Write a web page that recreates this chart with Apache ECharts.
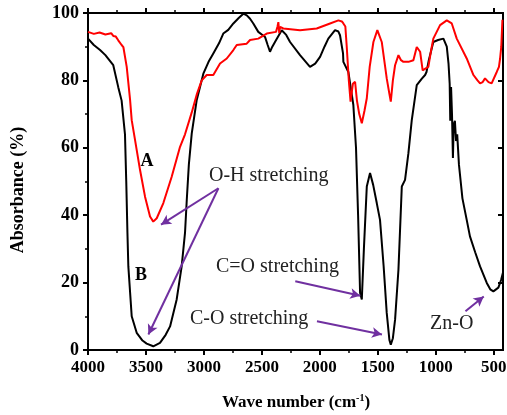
<!DOCTYPE html>
<html>
<head>
<meta charset="utf-8">
<script src="https://cdn.jsdelivr.net/npm/echarts@6/dist/echarts.min.js"></script>
<style>
html,body{margin:0;padding:0;background:#fff;}
#chart{width:507px;height:415px;}
</style>
</head>
<body>
<div id="chart"></div>
<script>
// ---- data ----
const xMajorTicks = [4000, 3500, 3000, 2500, 2000, 1500, 1000, 500];
const xMinorTicks = [3750, 3250, 2750, 2250, 1750, 1250, 750];

const bWave = [4000,3950,3896,3850,3782,3739,3710,3681,3670,3660,3652,3623,3580,3530,3494,3437,3379,3330,3292,3235,3192,3163,3148,3130,3105,3062,3005,2960,2919,2870,2833,2790,2746,2700,2660,2630,2602,2574,2531,2473,2450,2430,2410,2387,2329,2290,2257,2171,2085,2040,1998,1960,1927,1869,1840,1826,1800,1797,1754,1711,1688,1670,1653,1638,1620,1595,1567,1540,1509,1481,1450,1423,1400,1388,1370,1351,1322,1293,1265,1236,1207,1164,1120,1092,1080,1060,1021,980,934,905,890,880,875,868,860,852,845,835,825,815,800,770,733,705,660,618,560,530,503,480,460,445,435,420];
const bAbs  = [92.4,90.5,89,87.5,84.5,78,74,64,50,35,24.8,10,5.1,2.8,1.9,1.1,2.1,4.5,7,15,24.8,34.8,44.5,55,64.3,74.2,82,85.5,88,91,93.9,95,96.9,98.5,99.8,99.3,98.3,96.9,94.4,92.9,90.5,88.5,90,91.4,94.9,93.5,91.4,87.5,84,85,87,90,92.4,94.9,94.5,93.4,88,85.5,82.5,72.7,60,40,17,15,30,48.5,52.5,49,43.6,38.6,25,11,3,1.6,3.5,9,23.8,48.5,50.5,58.4,68.2,78.6,80.5,81.6,82.5,86,91.4,92,92.4,90,85,79,68,78,70,57,67,68,62,64,55,45,38.6,33.7,29,24.8,19.9,18,17.4,18,18.5,19.9,21,23];

const aWave = [4000,3950,3900,3850,3800,3782,3760,3739,3710,3695,3666,3637,3623,3594,3551,3508,3465,3437,3407,3350,3278,3206,3163,3105,3060,3019,2976,2940,2919,2861,2803,2746,2717,2631,2602,2531,2458,2378,2365,2358,2350,2343,2315,2171,2027,1912,1840,1810,1797,1780,1768,1750,1735,1715,1696,1680,1660,1638,1615,1595,1570,1538,1504,1466,1423,1400,1388,1370,1351,1322,1300,1279,1236,1193,1164,1150,1135,1113,1090,1064,1040,1021,963,905,862,819,733,675,640,618,595,575,545,518,474,455,445,435,425];
const aAbs  = [94.4,93.8,94.2,93.6,94,93.2,93,91.9,90.5,89.9,84,74.2,68.2,62.3,53.4,45.5,39.6,38.1,39.1,43.6,51.4,60.3,64,70.5,76,80,81.6,81.6,81.6,85,86.5,89,90.5,90.9,92,92.4,93.9,94.4,96,97.3,94,95.9,95.4,94.9,95.4,96.9,97.8,97.5,96.9,96,90,80,73.7,79,79.6,74,70,67.3,71,74.7,84,91.4,94.9,91.4,80.6,76,73.7,80,84.5,87.5,86,85.5,85.5,86,89.9,89.5,88.5,83,83.5,84,89,92.4,96.4,97.8,96.9,92.4,86.5,81.6,80,79.1,79.5,80.6,79.5,79.1,82.5,84,86.5,90,98];

// annotation arrows: [fromWave, fromAbs, toWave, toAbs]
const arrows = [
  [2875, 48.0, 3370, 37.2],
  [2875, 48.0, 3479, 4.6],
  [2212, 20.4, 1651, 16.1],
  [2025, 8.5, 1464, 4.6],
  [744, 11.5, 586, 15.9]
];

const pair = (xs, ys) => xs.map((x, i) => [x, ys[i]]);

const FONT = "'Liberation Serif', 'Times New Roman', serif";
const PURPLE = '#7030a0';

const chart = echarts.init(document.getElementById('chart'));

const baseX = {
  type: 'value', min: 420, max: 4000, inverse: true,
  splitLine: {show: false},
  axisLine: {show: true, onZero: false, lineStyle: {color: '#000', width: 2}}
};

const option = {
  animation: false,
  backgroundColor: '#fff',
  grid: {left: 88, right: 4, top: 13, bottom: 65, containLabel: false, outerBoundsMode: 'none'},
  xAxis: [
    Object.assign({}, baseX, {
      position: 'bottom',
      axisTick: {show: true, inside: false, length: 5, customValues: xMajorTicks, lineStyle: {color: '#000', width: 2}},
      axisLabel: {show: true, customValues: xMajorTicks, formatter: v => String(v), margin: 9, color: '#000', fontFamily: FONT, fontWeight: 'bold', fontSize: 17, hideOverlap: false}
    }),
    Object.assign({}, baseX, {
      position: 'bottom',
      axisTick: {show: true, inside: false, length: 3, customValues: xMinorTicks, lineStyle: {color: '#000', width: 1.5}},
      axisLabel: {show: false}
    }),
    Object.assign({}, baseX, {
      position: 'top',
      axisTick: {show: true, inside: false, length: 5, customValues: xMajorTicks, lineStyle: {color: '#000', width: 2}},
      axisLabel: {show: false}
    }),
    Object.assign({}, baseX, {
      position: 'top',
      axisTick: {show: true, inside: false, length: 3, customValues: xMinorTicks, lineStyle: {color: '#000', width: 1.5}},
      axisLabel: {show: false}
    })
  ],
  yAxis: [
    {
      type: 'value', min: 0, max: 100, interval: 20, position: 'left',
      splitLine: {show: false},
      axisLine: {show: true, lineStyle: {color: '#000', width: 2}},
      axisTick: {show: true, inside: false, length: 5, lineStyle: {color: '#000', width: 2}},
      minorTick: {show: true, splitNumber: 2, length: 3, lineStyle: {color: '#000', width: 1.5}},
      axisLabel: {margin: 9, color: '#000', fontFamily: FONT, fontWeight: 'bold', fontSize: 18}
    },
    {
      type: 'value', min: 0, max: 100, interval: 20, position: 'right',
      splitLine: {show: false},
      axisLine: {show: true, lineStyle: {color: '#000', width: 2}},
      axisTick: {show: true, inside: true, length: 5, lineStyle: {color: '#000', width: 2}},
      axisLabel: {show: false}
    }
  ],
  series: [
    {
      name: 'B', type: 'line', xAxisIndex: 0, yAxisIndex: 0,
      data: pair(bWave, bAbs), showSymbol: false, symbol: 'none',
      lineStyle: {color: '#000', width: 2}, z: 3
    },
    {
      name: 'A', type: 'line', xAxisIndex: 0, yAxisIndex: 0,
      data: pair(aWave, aAbs), showSymbol: false, symbol: 'none',
      lineStyle: {color: '#ff0000', width: 2}, z: 4,
      markLine: {
        silent: true, animation: false,
        symbol: ['none', 'arrow'], symbolSize: [8, 10],
        label: {show: false},
        lineStyle: {color: PURPLE, width: 2, type: 'solid'},
        data: arrows.map(a => [{coord: [a[0], a[1]]}, {coord: [a[2], a[3]]}])
      }
    }
  ],
  graphic: [
    {type: 'text', x: 18, y: 190, rotation: Math.PI / 2,
     style: {text: 'Absorbance (%)', fill: '#000', font: "bold 18px 'Liberation Serif'", textAlign: 'center', textVerticalAlign: 'middle'}},
    {type: 'text', x: 296, y: 403,
     style: {text: '{n|Wave number (cm}{s|-1}{n|)}', fill: '#000', textAlign: 'center', textVerticalAlign: 'middle',
       rich: {n: {fontFamily: FONT, fontWeight: 'bold', fontSize: 17, fill: '#000'},
              s: {fontFamily: FONT, fontWeight: 'bold', fontSize: 10, fill: '#000', padding: [0, 0, 9, 0]}}}},
    {type: 'text', x: 147, y: 161,
     style: {text: 'A', fill: '#000', font: "bold 18px 'Liberation Serif'", textAlign: 'center', textVerticalAlign: 'middle'}},
    {type: 'text', x: 141, y: 275,
     style: {text: 'B', fill: '#000', font: "bold 18px 'Liberation Serif'", textAlign: 'center', textVerticalAlign: 'middle'}},
    {type: 'text', x: 209, y: 176,
     style: {text: 'O-H stretching', fill: '#222', font: "20px 'Liberation Serif'", textAlign: 'left', textVerticalAlign: 'middle'}},
    {type: 'text', x: 216, y: 267,
     style: {text: 'C=O stretching', fill: '#222', font: "20px 'Liberation Serif'", textAlign: 'left', textVerticalAlign: 'middle'}},
    {type: 'text', x: 190, y: 319,
     style: {text: 'C-O stretching', fill: '#222', font: "20px 'Liberation Serif'", textAlign: 'left', textVerticalAlign: 'middle'}},
    {type: 'text', x: 430, y: 324,
     style: {text: 'Zn-O', fill: '#222', font: "20px 'Liberation Serif'", textAlign: 'left', textVerticalAlign: 'middle'}}
  ]
};
chart.setOption(option);
</script>
</body>
</html>
